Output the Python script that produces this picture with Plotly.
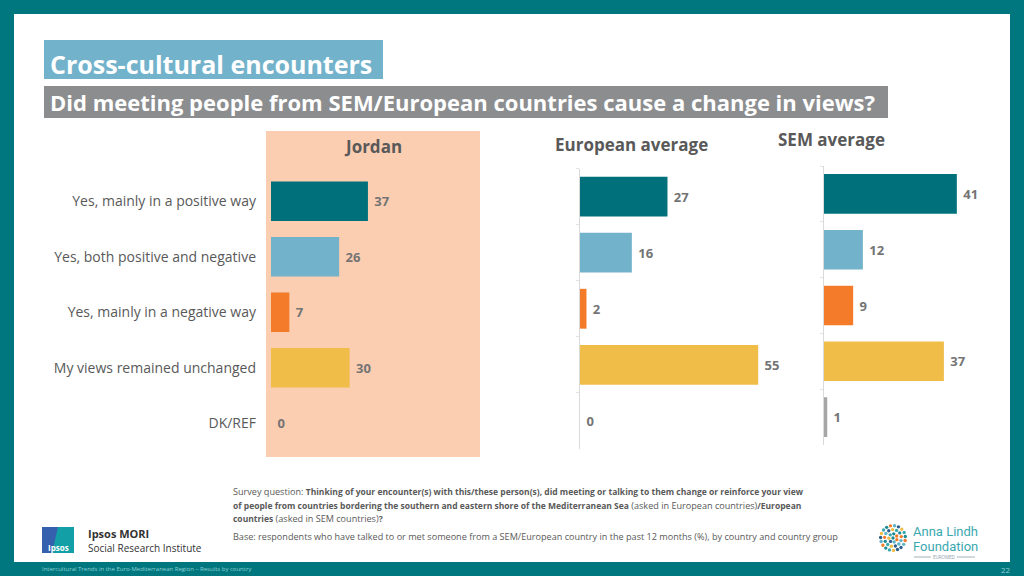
import math
import plotly.graph_objects as go

# ---------------- data ----------------
categories = ["Yes, mainly in a positive way", "Yes, both positive and negative",
              "Yes, mainly in a negative way", "My views remained unchanged", "DK/REF"]
jordan = [37, 26, 7, 30, 0]
european_avg = [27, 16, 2, 55, 0]
sem_avg = [41, 12, 9, 37, 1]
panel_titles = ["Jordan", "European average", "SEM average"]
bar_colors = ["#00707A", "#72B2CB", "#F47B2A", "#F0BD48", "#A6A6A6"]

W, H = 1024, 576
def px(x): return x / W
def py(y): return 1 - y / H

TEAL = "#00777E"
GRAY_TXT = "#595959"
VAL_TXT = "#747474"
FONT = "Open Sans"

fig = go.Figure()

panels = [
    (jordan, "x", "y", 271, 2.62, 80, 173.5, 451.0),
    (european_avg, "x2", "y2", 580, 3.24, 60, 168.5, 449.0),
    (sem_avg, "x3", "y3", 824, 3.24, 55, 166.0, 445.0),
]

for i, (vals, xa, ya, x0, scale, rmax, ytop, ybot) in enumerate(panels):
    fig.add_trace(go.Bar(
        x=vals, y=categories, orientation="h", xaxis=xa, yaxis=ya,
        marker=dict(color=bar_colors, line=dict(width=0)),
        text=[" " + str(v) for v in vals], textposition="outside",
        textfont=dict(family=FONT, size=13, color=VAL_TXT, weight="bold"),
        cliponaxis=False, showlegend=False, hoverinfo="skip",
    ))
    n = "" if i == 0 else str(i + 1)
    fig.layout["xaxis" + n] = dict(
        domain=[px(x0), px(x0 + rmax * scale)], range=[0, rmax],
        visible=False, anchor="y" + n, fixedrange=True)
    yax = dict(
        domain=[py(ybot), py(ytop)], type="category",
        categoryorder="array", categoryarray=categories,
        autorange="reversed", anchor="x" + n, fixedrange=True,
        showgrid=False, zeroline=False)
    if i == 0:
        yax.update(showticklabels=True, ticks="", showline=False,
                   ticklabelstandoff=14,
                   tickfont=dict(family=FONT, size=14, color=GRAY_TXT))
    else:
        yax.update(showticklabels=False, showline=True, linecolor="#D9D9D9",
                   linewidth=1, ticks="outside", tickson="boundaries",
                   ticklen=3, tickcolor="#E3E3E3")
    fig.layout["yaxis" + n] = yax

def R(x0, x1, y0, y1, color, layer="below"):
    return dict(type="rect", xref="paper", yref="paper",
                x0=px(x0), x1=px(x1), y0=py(y1), y1=py(y0),
                fillcolor=color, line=dict(width=0), layer=layer)

shapes = [
    R(14, 1010, 14, 562, "white"),
    R(44, 383, 40, 79, "#72B2CB"),
    R(44, 888, 86, 118, "#8B8D8F"),
    R(266, 480, 131, 457, "#FBCDB1"),
    R(42, 74, 527, 553, "#3560AE", layer="above"),
    dict(type="path", xref="paper", yref="paper",
         path=f"M {px(58)},{py(527)} L {px(74)},{py(527)} L {px(74)},{py(553)} L {px(52)},{py(553)} Z",
         fillcolor="#12A0A6", line=dict(width=0), layer="above"),
    dict(type="line", xref="paper", yref="paper", x0=px(914), x1=px(931), y0=py(557), y1=py(557),
         line=dict(color="#8AA0A8", width=0.8)),
    dict(type="line", xref="paper", yref="paper", x0=px(957), x1=px(975), y0=py(557), y1=py(557),
         line=dict(color="#8AA0A8", width=0.8)),
]

# Anna Lindh Foundation logo: mosaic of dots in a circle (decoration)
dot_cols = ["#1E8C95", "#F47B2A", "#5FB4C8", "#2C5F8A", "#F0BD48", "#3AA8B1"]
k = 0
for ring, (r, cnt) in enumerate([(0, 1), (4.2, 7), (8.4, 13), (12.4, 19)]):
    for j in range(cnt):
        a = 2 * math.pi * j / cnt + ring * 0.4
        cx, cy = 893 + r * math.cos(a), 538 + r * math.sin(a)
        rr = 1.7
        shapes.append(dict(type="circle", xref="paper", yref="paper",
                           x0=px(cx - rr), x1=px(cx + rr),
                           y0=py(cy + rr), y1=py(cy - rr),
                           fillcolor=dot_cols[k % len(dot_cols)],
                           line=dict(width=0), layer="above"))
        k += 1

fig.update_layout(shapes=shapes)

ann = []
def A(text, x, y, size, color, xanchor="left", bold=False, family=FONT, yanchor="middle"):
    ann.append(dict(text=text, x=px(x), y=py(y), xref="paper", yref="paper",
                    xanchor=xanchor, yanchor=yanchor, showarrow=False,
                    font=dict(family=family, size=size, color=color,
                              weight="bold" if bold else "normal")))

A("Cross-cultural encounters", 48, 64, 25, "white", bold=True)
A("Did meeting people from SEM/European countries cause a change in views?", 48, 102, 22, "white", bold=True)
A(panel_titles[0], 373, 147, 17, GRAY_TXT, xanchor="center", bold=True)
A(panel_titles[1], 631, 144, 17, GRAY_TXT, xanchor="center", bold=True)
A(panel_titles[2], 831, 139, 17, GRAY_TXT, xanchor="center", bold=True)

FT = "#595959"
def B(s):
    return f"<b><span style='font-size:8.5px'>{s}</span></b>"
A("Survey question: " + B("Thinking of your encounter(s) with this/these person(s), did meeting or talking to them change or reinforce your view"),
  231, 491, 9.1, FT)
A(B("of people from countries bordering the southern and eastern shore of the Mediterranean Sea") + " (asked in European countries)" + B("/European"),
  231, 505, 9.1, FT)
A(B("countries") + " (asked in SEM countries)" + B("?"), 231, 518, 9.1, FT)
A("Base: respondents who have talked to or met someone from a SEM/European country in the past 12 months (%), by country and country group",
  231, 536, 9.1, FT)

A("Ipsos", 58, 547, 8, "white", xanchor="center", bold=True)
A("Ipsos MORI", 86, 533, 11, "#333333", bold=True)
A("Social Research Institute", 86, 548, 10, "#333333")

A("Anna Lindh", 911, 531, 13, "#3AA8B1", family="Roboto")
A("Foundation", 911, 546, 13, "#3AA8B1", family="Roboto")
A("EUROMED", 944, 557, 4.5, "#8AA0A8", xanchor="center")

A("Intercultural Trends in the Euro-Mediterranean Region \u2013 Results by country", 40, 569, 6, "#8FCFD3")
A("22", 1013, 569, 8, "#8FCFD3", xanchor="right")

fig.update_layout(
    annotations=ann,
    width=W, height=H, autosize=False,
    margin=dict(l=0, r=0, t=0, b=0),
    paper_bgcolor=TEAL, plot_bgcolor="rgba(0,0,0,0)",
    bargap=0.29, font=dict(family=FONT),
)

fig.write_html("out.html", config={"displayModeBar": False},
               post_script="document.body.style.margin='0';document.body.style.overflow='hidden';")
